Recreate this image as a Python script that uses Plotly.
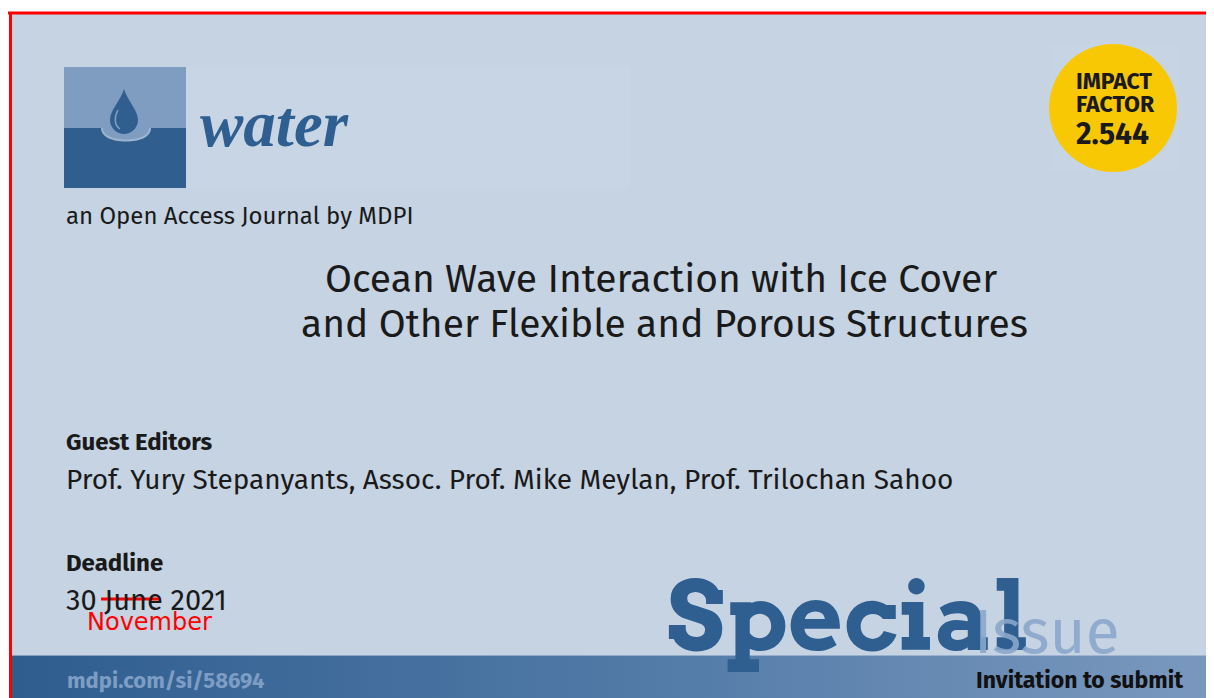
import plotly.graph_objects as go

W, H = 1214, 698
OFF = 8  # page body margin of the browser

# ---- content ----
journal_name = "water"
journal_tagline = "an Open Access Journal by MDPI"
title_lines = ["Ocean Wave Interaction with Ice Cover",
               "and Other Flexible and Porous Structures"]
editors_label = "Guest Editors"
editors = ["Prof. Yury Stepanyants", "Assoc. Prof. Mike Meylan", "Prof. Trilochan Sahoo"]
deadline_label = "Deadline"
deadline_parts = ["30", "June", "2021"]
deadline_new_month = "November"
impact_label = ["IMPACT", "FACTOR"]
impact_value = 2.544
special_words = ["Special", "Issue"]
si_url = "mdpi.com/si/58694"
invitation = "Invitation to submit"

# ---- colours ----
BG = "#C5D3E2"
DARK = "#2F5E8F"
LIGHT = "#7F9DC1"
YELLOW = "#F9C805"
RED = "#FF0000"

FIRA = "Fira Sans, Open Sans, sans-serif"
SLAB = "Roboto Slab, Arvo, DejaVu Serif, serif"

fig = go.Figure()

# bottom gradient bar
fig.add_trace(go.Scatter(
    x=[12, W + 10, W + 10, 12, 12], y=[655, 655, H + 10, H + 10, 655],
    mode="lines", line=dict(width=0), fill="toself",
    fillgradient=dict(type="horizontal",
                      colorscale=[[0, "#2E5D8E"], [0.5, "#5079A6"], [1, "#7B99BF"]]),
    hoverinfo="skip", showlegend=False))
fig.add_trace(go.Scatter(x=[12, W + 10], y=[655.5, 655.5], mode="lines",
                         line=dict(color="rgba(190,205,225,0.6)", width=1),
                         hoverinfo="skip", showlegend=False))

shapes = []
shapes.append(dict(type="rect", x0=10, y0=13, x1=W + 10, y1=H + 10, fillcolor=BG,
                   line=dict(width=0), layer="below"))
shapes.append(dict(type="rect", x0=186, y0=67, x1=630, y1=188,
                   fillcolor="rgba(203,215,230,0.5)", line=dict(width=0), layer="below"))
shapes.append(dict(type="rect", x0=1050, y0=44, x1=1178, y1=172,
                   fillcolor="rgba(203,215,230,0.4)", line=dict(width=0), layer="below"))
# logo
shapes.append(dict(type="rect", x0=64, y0=67, x1=186, y1=128, fillcolor=LIGHT,
                   line=dict(width=0), layer="below"))
shapes.append(dict(type="rect", x0=64, y0=128, x1=186, y1=188, fillcolor=DARK,
                   line=dict(width=0), layer="below"))
shapes.append(dict(type="path",
                   path="M 101,128 C 101,137 112,141.5 126,141.5 C 140,141.5 151,137 151,128 Z",
                   fillcolor="#9DB4CF", line=dict(width=0), layer="below"))
shapes.append(dict(type="path",
                   path="M 103,128 C 103,135.5 113,139.5 126,139.5 C 139,139.5 149,135.5 149,128 Z",
                   fillcolor=LIGHT, line=dict(width=0), layer="below"))
shapes.append(dict(type="path",
                   path="M 124,89 C 121,100 110,110 110,120 C 110,128 117,134 124,134 "
                        "C 131,134 138,128 138,120 C 138,110 127,100 124,89 Z",
                   fillcolor=DARK, line=dict(width=0), layer="below"))
shapes.append(dict(type="path",
                   path="M 118,110 C 114,117 114,125 120,129",
                   line=dict(color=LIGHT, width=1.5), layer="below"))
# impact factor circle
shapes.append(dict(type="circle", x0=1049, y0=44, x1=1177, y1=172,
                   fillcolor=YELLOW, line=dict(width=0), layer="below"))
# strikethrough over "June"
shapes.append(dict(type="line", x0=101, y0=599, x1=160, y1=599,
                   line=dict(color=RED, width=3)))
# red frame
shapes.append(dict(type="line", x0=8, y0=13, x1=W + 10, y1=13, line=dict(color=RED, width=3)))
shapes.append(dict(type="line", x0=10.5, y0=12, x1=10.5, y1=H + 10, line=dict(color=RED, width=3)))

ann = []
def text(x, y, s, size, color="#1a1a1a", family=FIRA, xanchor="left", weight=400, italic=False):
    ann.append(dict(x=x, y=y, xref="x", yref="y", text=s, showarrow=False,
                    xanchor=xanchor, yanchor="middle",
                    font=dict(size=size, color=color, family=family, weight=weight,
                              style="italic" if italic else "normal")))

text(198, 124, journal_name, 65, color="#2F5E91", family="Liberation Serif, serif",
     weight=700, italic=True)
text(64, 216, journal_tagline, 24)
text(661, 279, title_lines[0], 39, xanchor="center")
text(664, 324, title_lines[1], 39, xanchor="center")
text(64, 442, editors_label, 24, weight=700)
text(64, 479, ", ".join(editors), 28)
text(64, 563, deadline_label, 24, weight=700)
text(64, 600, " ".join(deadline_parts), 29)
text(85, 622, deadline_new_month, 24, color=RED, family="DejaVu Sans, sans-serif")
text(1114, 81, impact_label[0], 23, weight=700, xanchor="center")
text(1115, 104, impact_label[1], 23, weight=700, xanchor="center")
text(1112, 134, f"{impact_value:.3f}", 30, weight=700, xanchor="center")
text(665, 616, special_words[0], 95, color="#2F5E91", family=SLAB, weight=600)
text(972, 632, special_words[1], 62, color="rgba(138,166,203,0.9)", family=FIRA)
text(65, 680, si_url, 22, color="#7E9DC4", weight=700)
text(1186, 680, invitation, 23, color="#111111", xanchor="right", weight=700)

fig.update_layout(
    width=W, height=H, margin=dict(l=0, r=0, t=0, b=0),
    paper_bgcolor="white", plot_bgcolor="white",
    xaxis=dict(range=[OFF, W + OFF], visible=False, fixedrange=True),
    yaxis=dict(range=[H + OFF, OFF], visible=False, fixedrange=True),
    shapes=shapes, annotations=ann, showlegend=False)

fig.write_html("out.html")
